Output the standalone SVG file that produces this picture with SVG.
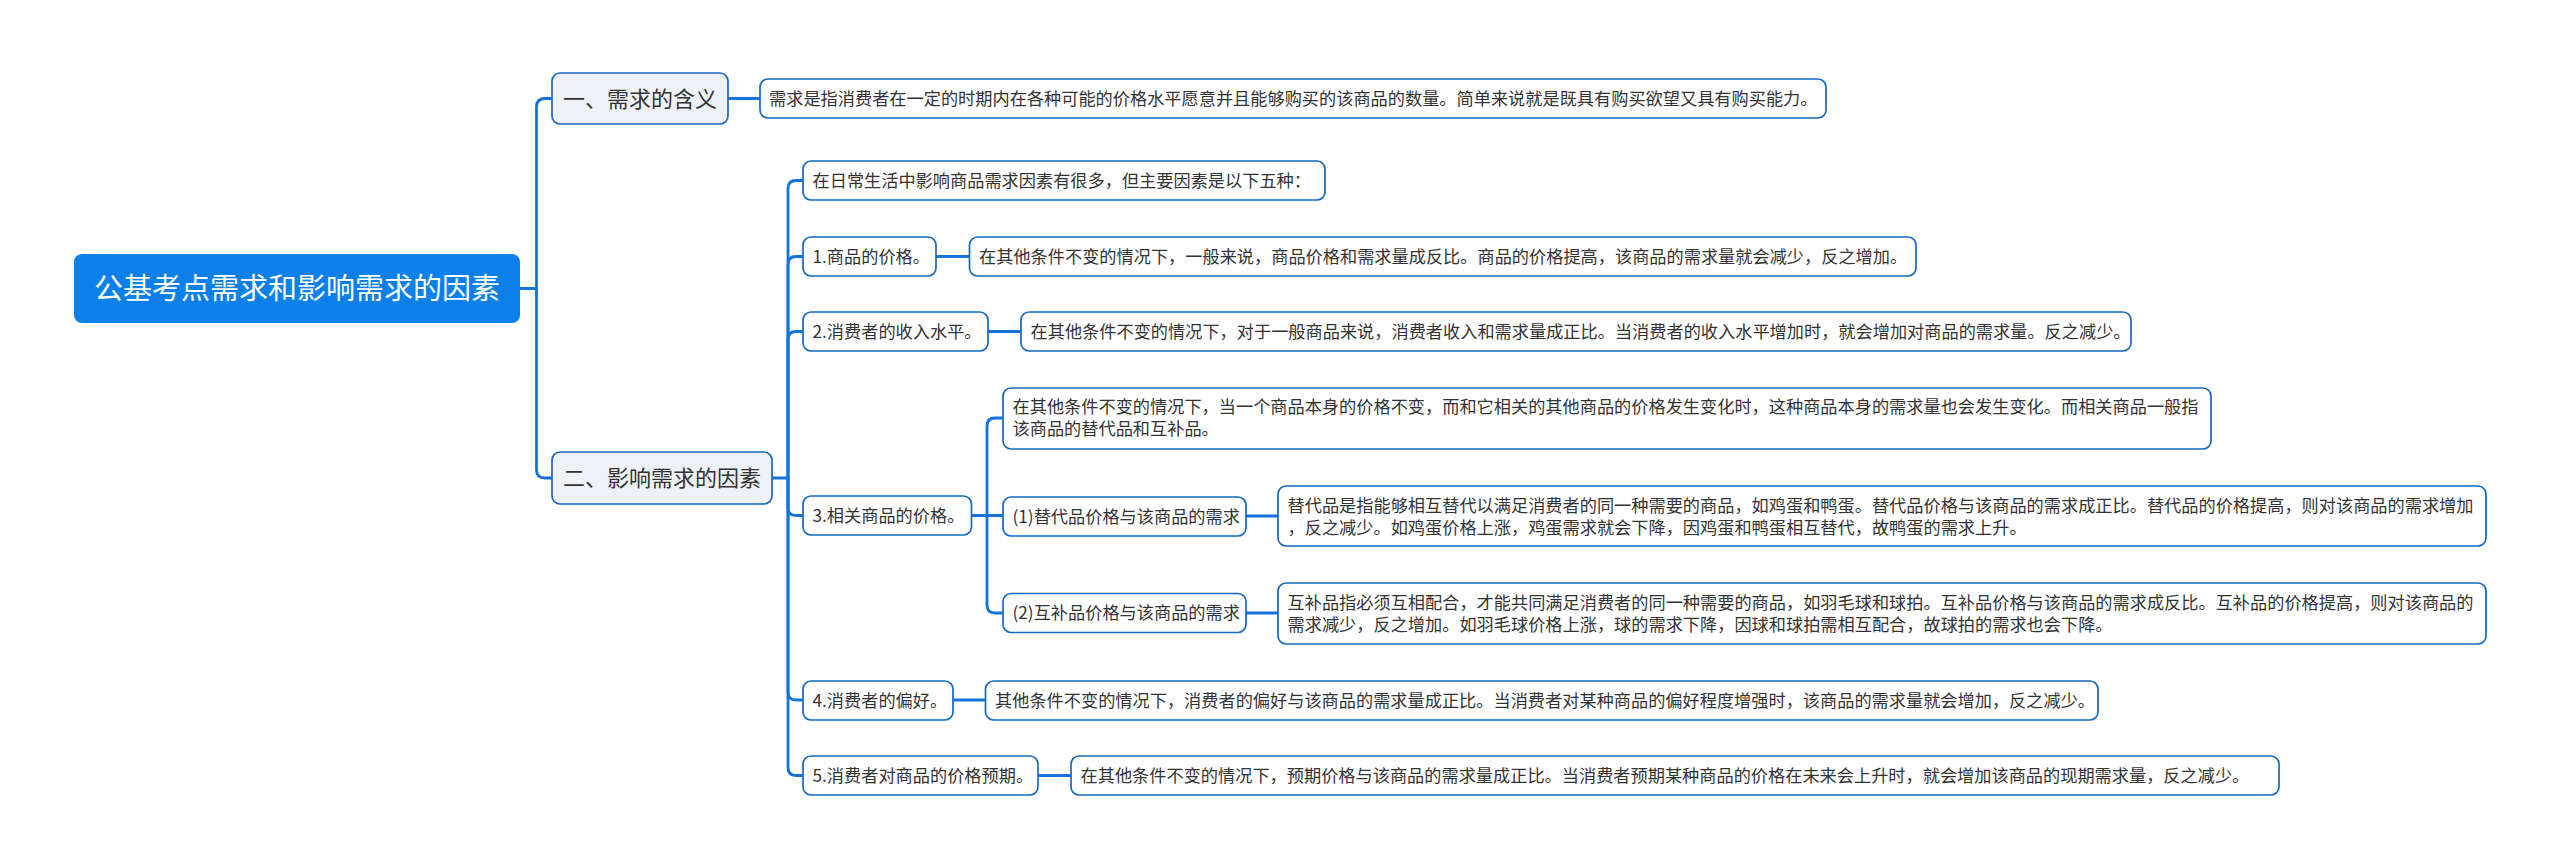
<svg xmlns="http://www.w3.org/2000/svg" width="2560" height="868" viewBox="0 0 2560 868">
<style>
text{font-family:"Noto Sans CJK SC","Noto Sans",sans-serif;fill:#333333;}
.t{font-size:17.2px;}
.l1{font-size:22px;}
.root-t{font-size:29px;fill:#ffffff;}
.box{fill:#ffffff;stroke:#1668c4;stroke-width:1.7;}
.b1{fill:#eef2f6;stroke:#1668c4;stroke-width:1.7;}
.conn path{fill:none;stroke:#1673dc;stroke-width:2.8;stroke-linecap:round;}
</style>
<rect width="2560" height="868" fill="#ffffff"/>
<g class="conn" id="connectors">
<path d="M520 288.5 H536.5"/>
<path d="M552 98.5 H545 Q536.5 98.5 536.5 107 V470 Q536.5 478 545 478 H552"/>
<path d="M728 98.5 H760"/>
<path d="M772 478 H788"/>
<path d="M788 478 V188.5 Q788 180.5 796 180.5 H803"/>
<path d="M788 478 V264.5 Q788 256.5 796 256.5 H803"/>
<path d="M788 478 V339.5 Q788 331.5 796 331.5 H803"/>
<path d="M788 478 V507.5 Q788 515.5 796 515.5 H803"/>
<path d="M788 478 V692 Q788 700 796 700 H803"/>
<path d="M788 478 V767.5 Q788 775.5 796 775.5 H803"/>
<path d="M936 256.5 H969.5"/>
<path d="M988 331.5 H1021"/>
<path d="M971.5 515.5 H1003"/>
<path d="M987 515.5 V426 Q987 418 995 418 H1003"/>
<path d="M987 515.5 V605 Q987 613 995 613 H1003"/>
<path d="M1246 516 H1278"/>
<path d="M1246 613 H1278"/>
<path d="M953 700 H985.5"/>
<path d="M1038 775.5 H1071"/>
</g>
<g id="root">
<rect x="74" y="254" width="446" height="69" rx="8" fill="#0b7fea"/>
<text class="root-t" x="297" y="299" text-anchor="middle">公基考点需求和影响需求的因素</text>
</g>
<g id="n1">
<rect class="b1" x="552" y="73" width="176" height="51" rx="8"/>
<text class="l1" x="640" y="106.5" text-anchor="middle">一、需求的含义</text>
</g>
<g id="n1c">
<rect class="box" x="760" y="79" width="1066" height="39" rx="8"/>
<text class="t" x="769" y="104.5">需求是指消费者在一定的时期内在各种可能的价格水平愿意并且能够购买的该商品的数量。简单来说就是既具有购买欲望又具有购买能力。</text>
</g>
<g id="n2">
<rect class="b1" x="552" y="452" width="220" height="52" rx="8"/>
<text class="l1" x="662" y="486" text-anchor="middle">二、影响需求的因素</text>
</g>
<g id="intro">
<rect class="box" x="803" y="161" width="522" height="39" rx="8"/>
<text class="t" x="812.5" y="186.5">在日常生活中影响商品需求因素有很多，但主要因素是以下五种：</text>
</g>
<g id="f1">
<rect class="box" x="803" y="237" width="133" height="39" rx="8"/>
<text class="t" x="812.5" y="262.5">1.商品的价格。</text>
</g>
<g id="f1c">
<rect class="box" x="969.5" y="237" width="946.5" height="39" rx="8"/>
<text class="t" x="979" y="262.5">在其他条件不变的情况下，一般来说，商品价格和需求量成反比。商品的价格提高，该商品的需求量就会减少，反之增加。</text>
</g>
<g id="f2">
<rect class="box" x="803" y="312" width="185" height="39" rx="8"/>
<text class="t" x="812.5" y="337.5">2.消费者的收入水平。</text>
</g>
<g id="f2c">
<rect class="box" x="1021" y="312" width="1110" height="39" rx="8"/>
<text class="t" x="1030.5" y="337.5">在其他条件不变的情况下，对于一般商品来说，消费者收入和需求量成正比。当消费者的收入水平增加时，就会增加对商品的需求量。反之减少。</text>
</g>
<g id="f3">
<rect class="box" x="803" y="496" width="168.5" height="39" rx="8"/>
<text class="t" x="812.5" y="521.5">3.相关商品的价格。</text>
</g>
<g id="f3a">
<rect class="box" x="1003" y="388" width="1208" height="61" rx="8"/>
<text class="t" x="1012.5" y="413">在其他条件不变的情况下，当一个商品本身的价格不变，而和它相关的其他商品的价格发生变化时，这种商品本身的需求量也会发生变化。而相关商品一般指</text>
<text class="t" x="1012.5" y="435">该商品的替代品和互补品。</text>
</g>
<g id="f3b">
<rect class="box" x="1003" y="497" width="243" height="39" rx="8"/>
<text class="t" x="1012.5" y="522.5">(1)替代品价格与该商品的需求</text>
</g>
<g id="f3bc">
<rect class="box" x="1278" y="486" width="1208" height="60" rx="8"/>
<text class="t" x="1287.5" y="512">替代品是指能够相互替代以满足消费者的同一种需要的商品，如鸡蛋和鸭蛋。替代品价格与该商品的需求成正比。替代品的价格提高，则对该商品的需求增加</text>
<text class="t" x="1287.5" y="534">，反之减少。如鸡蛋价格上涨，鸡蛋需求就会下降，因鸡蛋和鸭蛋相互替代，故鸭蛋的需求上升。</text>
</g>
<g id="f3c">
<rect class="box" x="1003" y="593.5" width="243" height="39" rx="8"/>
<text class="t" x="1012.5" y="619">(2)互补品价格与该商品的需求</text>
</g>
<g id="f3cc">
<rect class="box" x="1278" y="583" width="1208" height="61" rx="8"/>
<text class="t" x="1287.5" y="608.5">互补品指必须互相配合，才能共同满足消费者的同一种需要的商品，如羽毛球和球拍。互补品价格与该商品的需求成反比。互补品的价格提高，则对该商品的</text>
<text class="t" x="1287.5" y="630.5">需求减少，反之增加。如羽毛球价格上涨，球的需求下降，因球和球拍需相互配合，故球拍的需求也会下降。</text>
</g>
<g id="f4">
<rect class="box" x="803" y="681" width="150" height="39" rx="8"/>
<text class="t" x="812.5" y="706.5">4.消费者的偏好。</text>
</g>
<g id="f4c">
<rect class="box" x="985.5" y="681" width="1112.5" height="39" rx="8"/>
<text class="t" x="995" y="706.5">其他条件不变的情况下，消费者的偏好与该商品的需求量成正比。当消费者对某种商品的偏好程度增强时，该商品的需求量就会增加，反之减少。</text>
</g>
<g id="f5">
<rect class="box" x="803" y="756" width="235" height="39" rx="8"/>
<text class="t" x="812.5" y="781.5">5.消费者对商品的价格预期。</text>
</g>
<g id="f5c">
<rect class="box" x="1071" y="756" width="1208" height="39" rx="8"/>
<text class="t" x="1080.5" y="781.5">在其他条件不变的情况下，预期价格与该商品的需求量成正比。当消费者预期某种商品的价格在未来会上升时，就会增加该商品的现期需求量，反之减少。</text>
</g>
</svg>
